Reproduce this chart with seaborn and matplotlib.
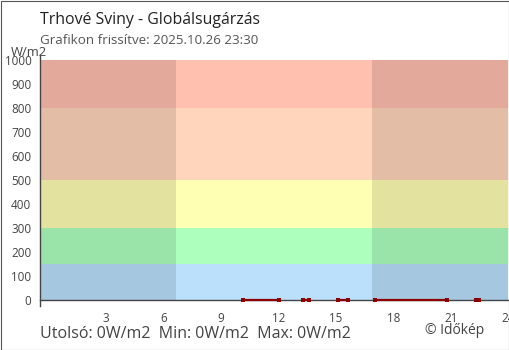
import numpy as np
import pandas as pd
import seaborn as sns
import matplotlib
matplotlib.use("Agg")
import matplotlib.pyplot as plt
from matplotlib.patches import Rectangle

# ---- data ----
title = "Trhové Sviny - Globálsugárzás"
subtitle = "Grafikon frissítve: 2025.10.26 23:30"
footer = "Utolsó: 0W/m2  Min: 0W/m2  Max: 0W/m2"
credit = "© Időkép"
unit_label = "W/m2"

# measured segments (hour of day) – value 0 W/m2
seg_id = [1, 1, 2, 2, 3, 3, 4, 4, 5, 5]
hours = [10.15, 12.00, 13.30, 13.60, 15.10, 15.65, 17.05, 20.80, 22.33, 22.45]
values = [0, 0, 0, 0, 0, 0, 0, 0, 0, 0]

band_edges = [0, 150, 300, 500, 800, 1000]
band_colors = ["#bbe0fc", "#adffbe", "#ffffb3", "#ffd5bb", "#ffc0b0"]
sunrise, sunset = 6.65, 16.88

x_ticks = [3, 6, 9, 12, 15, 18, 21, 24]
y_ticks = [0, 100, 200, 300, 400, 500, 600, 700, 800, 900, 1000]

df = pd.DataFrame({"hour": hours, "value": values, "seg": seg_id})

sns.set_theme(style="white")
plt.rcParams["font.family"] = ["Open Sans", "DejaVu Sans"]

W, H = 510, 350
fig = plt.figure(figsize=(W / 100, H / 100), dpi=100)
ax_left, ax_right = 40.5, 508.5
ax_top, ax_bot = 55, 306
ax = fig.add_axes([ax_left / W, (H - ax_bot) / H, (ax_right - ax_left) / W, (ax_bot - ax_top) / H])
ax.set_facecolor("white")

xmin, xmax = -0.42, 24.0
ax.set_xlim(xmin, xmax)
ax.set_ylim(-25, 1021)

for lo, hi, c in zip(band_edges[:-1], band_edges[1:], band_colors):
    ax.fill_between([xmin, xmax], lo, hi, color=c, linewidth=0, zorder=0)
for a, b in [(xmin, sunrise), (sunset, xmax)]:
    ax.fill_between([a, b], 0, 1000, color="black", alpha=0.11, linewidth=0, zorder=1)

sns.lineplot(data=df, x="hour", y="value", units="seg", estimator=None,
             color="#8b0000", linewidth=1.6, ax=ax, legend=False, zorder=5, clip_on=False)
ax.scatter(df["hour"], df["value"], marker="s", s=6, color="#8b0000", zorder=6, clip_on=False, linewidths=0)

for side in ["top", "right"]:
    ax.spines[side].set_visible(False)
ax.spines["bottom"].set_position(("data", 0))
for side in ["left", "bottom"]:
    ax.spines[side].set_color("#444444")
    ax.spines[side].set_linewidth(1.0)

ax.set_xticks(x_ticks)
ax.set_yticks(y_ticks)
ax.tick_params(axis="both", direction="inout", length=9, width=1, color="#444444",
               labelcolor="#444444", labelsize=8.4, pad=2)
ax.tick_params(axis="x", pad=4)
ax.set_xlabel("")
ax.set_ylabel("")

fig.text(40 / W, 1 - 20 / H, title, fontsize=11.4, color="#222222", va="center", ha="left")
fig.text(40 / W, 1 - 41 / H, subtitle, fontsize=9.6, color="#555555", va="center", ha="left")
fig.text(11 / W, 1 - 52 / H, unit_label, fontsize=9.4, color="#444444", va="center", ha="left")
fig.text(40 / W, 1 - 334 / H, footer, fontsize=11.5, color="#444444", va="center", ha="left")
fig.text(425 / W, 1 - 330.5 / H, credit, fontsize=10, color="#444444", va="center", ha="left")

fig.patches.append(Rectangle((0.5 / W, 0.5 / H), 1 - 1 / W, 1 - 1 / H, transform=fig.transFigure,
                             fill=False, edgecolor="#555555", linewidth=0.8))

fig.savefig("out.png", dpi=100)
